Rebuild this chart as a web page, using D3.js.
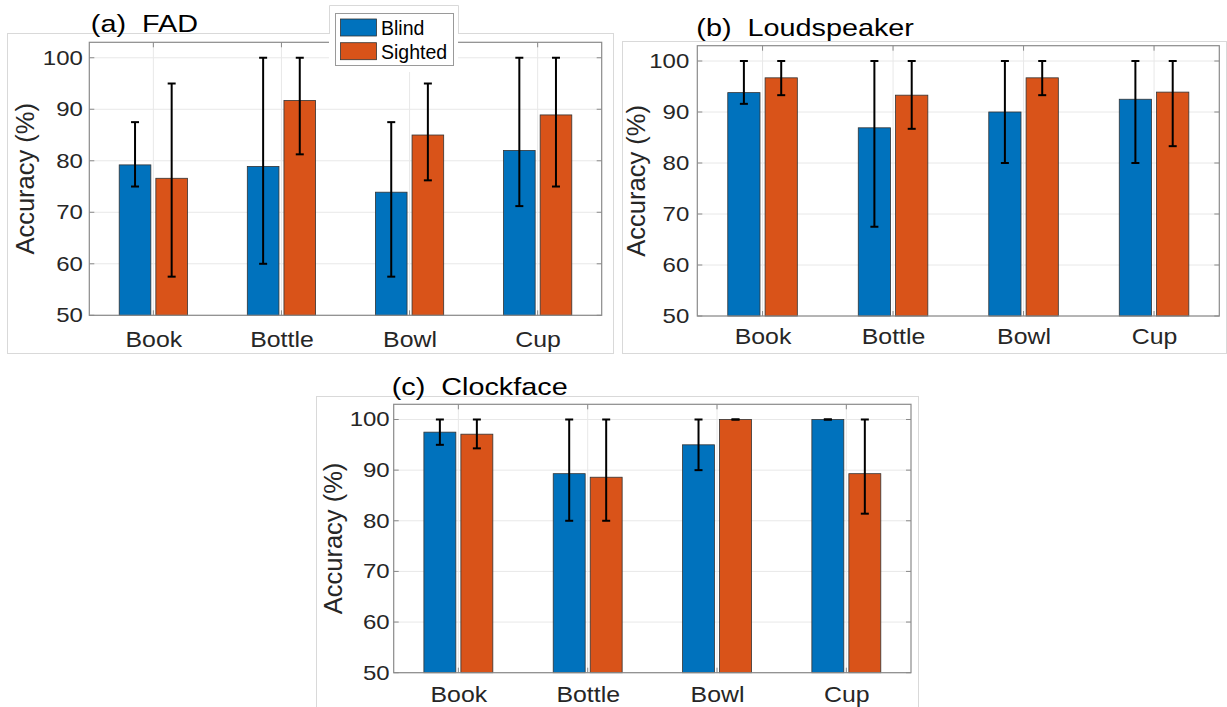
<!DOCTYPE html>
<html>
<head>
<meta charset="utf-8">
<script src="https://cdn.jsdelivr.net/npm/d3@7"></script>
<style>
  html, body { margin: 0; padding: 0; background: #fff; }
  svg { display: block; font-family: "Liberation Sans", Arial, Helvetica, sans-serif; }
</style>
</head>
<body>
<svg id="chart" width="1227" height="707"></svg>
<script>
// ---------------- DATA ----------------
const categories = ["Book", "Bottle", "Bowl", "Cup"];
const seriesNames = ["Blind", "Sighted"];
const yTicks = [50, 60, 70, 80, 90, 100];
const panelTitles = ["(a)  FAD", "(b)  Loudspeaker", "(c)  Clockface"];
const yLabel = "Accuracy (%)";

// (a) FAD
const fadBlind        = [79.2, 78.9, 73.9, 82.0];
const fadBlindLow     = [75.0, 60.0, 57.5, 71.2];
const fadBlindHigh    = [87.5, 100, 87.5, 100];
const fadSighted      = [76.6, 91.7, 85.0, 88.9];
const fadSightedLow   = [57.5, 81.25, 76.2, 75.0];
const fadSightedHigh  = [95.0, 100, 95.0, 100];

// (b) Loudspeaker
const loudBlind       = [93.8, 86.9, 90.0, 92.5];
const loudBlindLow    = [91.6, 67.5, 80.0, 80.0];
const loudBlindHigh   = [100, 100, 100, 100];
const loudSighted     = [96.7, 93.3, 96.7, 93.9];
const loudSightedLow  = [93.3, 86.7, 93.3, 83.3];
const loudSightedHigh = [100, 100, 100, 100];

// (c) Clockface
const clockBlind       = [97.5, 89.3, 95.0, 100];
const clockBlindLow    = [95.0, 80.0, 90.0, 100];
const clockBlindHigh   = [100, 100, 100, 100];
const clockSighted     = [97.1, 88.6, 100, 89.3];
const clockSightedLow  = [94.3, 80.0, 100, 81.4];
const clockSightedHigh = [100, 100, 100, 100];

// ---------------- STYLE / LAYOUT ----------------
const colors = ["#0072BD", "#D95319"];
const groupOffset = 0.143;
const barWidthUnits = 0.247;
const TXT = "#262626";
const AXIS = "#8a8a8a";
const GRID = "#e8e8e8";
const FRAME = "#d9d9d9";
const SX = 1.2; // horizontal stretch of the original figure's lettering

const panels = [
  { title: panelTitles[0], blind: fadBlind, bLo: fadBlindLow, bHi: fadBlindHigh,
    sighted: fadSighted, sLo: fadSightedLow, sHi: fadSightedHigh,
    frame: [7, 33, 613, 353], plot: [89.3, 42.3, 601.7, 315.3],
    yPad: 6.5, xBase: 31.4, ylabX: -64, titleX: 1.5, titleBase: 31.7 },
  { title: panelTitles[1], blind: loudBlind, bLo: loudBlindLow, bHi: loudBlindHigh,
    sighted: loudSighted, sLo: loudSightedLow, sHi: loudSightedHigh,
    frame: [622, 41, 1226, 353], plot: [697.3, 45.7, 1219.3, 316],
    yPad: 8, xBase: 28.5, ylabX: -61, titleX: -1, titleBase: 35.5 },
  { title: panelTitles[2], blind: clockBlind, bLo: clockBlindLow, bHi: clockBlindHigh,
    sighted: clockSighted, sLo: clockSightedLow, sHi: clockSightedHigh,
    frame: [316, 396, 918, 708], plot: [393.7, 404.3, 911, 672.7],
    yPad: 4, xBase: 29, ylabX: -61, titleX: -2, titleBase: 395 }
];

const svg = d3.select("#chart");

panels.forEach(p => {
  const [fx0, fy0, fx1, fy1] = p.frame;
  svg.append("rect")
    .attr("x", fx0 + 0.5).attr("y", fy0 + 0.5)
    .attr("width", fx1 - fx0).attr("height", fy1 - fy0)
    .attr("fill", "#fff").attr("stroke", FRAME).attr("stroke-width", 1);

  const [px0, py0, px1, py1] = p.plot;
  const x = d3.scaleLinear().domain([0.5, categories.length + 0.5]).range([px0, px1]);
  const y = d3.scaleLinear().domain([50, 103]).range([py1, py0]);

  const g = svg.append("g");

  // grid
  g.append("g").selectAll("line").data(yTicks).join("line")
    .attr("x1", px0).attr("x2", px1)
    .attr("y1", d => y(d)).attr("y2", d => y(d))
    .attr("stroke", GRID).attr("stroke-width", 1);
  g.append("g").selectAll("line").data(categories).join("line")
    .attr("x1", (d, i) => x(i + 1)).attr("x2", (d, i) => x(i + 1))
    .attr("y1", py0).attr("y2", py1)
    .attr("stroke", GRID).attr("stroke-width", 1);

  // bars
  const series = [
    { vals: p.blind, lo: p.bLo, hi: p.bHi, off: -groupOffset, color: colors[0] },
    { vals: p.sighted, lo: p.sLo, hi: p.sHi, off: groupOffset, color: colors[1] }
  ];
  const bw = x(1 + barWidthUnits) - x(1);
  series.forEach(s => {
    g.append("g").selectAll("rect").data(s.vals).join("rect")
      .attr("x", (d, i) => x(i + 1 + s.off) - bw / 2)
      .attr("y", d => y(d))
      .attr("width", bw)
      .attr("height", d => y(50) - y(d))
      .attr("fill", s.color)
      .attr("stroke", "#333").attr("stroke-width", 0.8);
  });
  // error bars
  series.forEach(s => {
    const eg = g.append("g").attr("stroke", "#000").attr("stroke-width", 2).attr("fill", "none");
    s.vals.forEach((v, i) => {
      const cx = x(i + 1 + s.off);
      eg.append("line").attr("x1", cx).attr("x2", cx).attr("y1", y(s.lo[i])).attr("y2", y(s.hi[i]));
      eg.append("line").attr("x1", cx - 4).attr("x2", cx + 4).attr("y1", y(s.hi[i])).attr("y2", y(s.hi[i]));
      eg.append("line").attr("x1", cx - 4).attr("x2", cx + 4).attr("y1", y(s.lo[i])).attr("y2", y(s.lo[i]));
    });
  });

  // box
  g.append("rect").attr("x", px0).attr("y", py0)
    .attr("width", px1 - px0).attr("height", py1 - py0)
    .attr("fill", "none").attr("stroke", AXIS).attr("stroke-width", 1.2);

  // inward ticks
  const tk = g.append("g").attr("stroke", AXIS).attr("stroke-width", 1);
  yTicks.forEach(t => {
    tk.append("line").attr("x1", px0).attr("x2", px0 + 5).attr("y1", y(t)).attr("y2", y(t));
    tk.append("line").attr("x1", px1 - 5).attr("x2", px1).attr("y1", y(t)).attr("y2", y(t));
  });
  categories.forEach((c, i) => {
    tk.append("line").attr("x1", x(i + 1)).attr("x2", x(i + 1)).attr("y1", py1).attr("y2", py1 - 5);
    tk.append("line").attr("x1", x(i + 1)).attr("x2", x(i + 1)).attr("y1", py0).attr("y2", py0 + 5);
  });

  // y axis labels via d3 axis
  const ya = g.append("g").attr("transform", `translate(${px0},0)`)
    .call(d3.axisLeft(y).tickValues(yTicks).tickSize(0).tickPadding(0));
  ya.select(".domain").remove();
  ya.selectAll("text")
    .attr("x", -p.yPad / SX)
    .attr("fill", TXT)
    .attr("font-size", 20)
    .attr("font-family", "'Liberation Sans', Arial, sans-serif")
    .attr("transform", `scale(${SX},1)`);

  // x axis labels via d3 axis
  const xa = g.append("g").attr("transform", `translate(0,${py1})`)
    .call(d3.axisBottom(x).tickValues(categories.map((c, i) => i + 1))
      .tickFormat((d) => categories[d - 1]).tickSize(0).tickPadding(0));
  xa.select(".domain").remove();
  xa.selectAll("text")
    .attr("dy", null)
    .attr("y", p.xBase)
    .attr("x", 0)
    .attr("fill", TXT)
    .attr("font-size", 22)
    .attr("font-family", "'Liberation Sans', Arial, sans-serif")
    .attr("transform", `scale(1.13,1)`);

  // y label
  g.append("text")
    .attr("transform", `translate(${px0 + p.ylabX},${(py0 + py1) / 2}) rotate(-90)`)
    .attr("text-anchor", "middle")
    .attr("dominant-baseline", "central")
    .attr("fill", TXT)
    .attr("font-size", 25.5)
    .text(yLabel);

  // title
  g.append("text")
    .attr("transform", `translate(${px0 + p.titleX},${p.titleBase}) scale(${SX},1)`)
    .attr("fill", "#000")
    .attr("font-size", 24)
    .style("white-space", "pre")
    .attr("xml:space", "preserve")
    .text(p.title);
});

// ---------------- LEGEND (panel a) ----------------
const lg = svg.append("g");
lg.append("rect").attr("x", 329).attr("y", 5).attr("width", 129).attr("height", 67)
  .attr("fill", "#fff");
lg.append("path").attr("d", "M329.5,34 V5.5 H458.5 V34")
  .attr("fill", "none").attr("stroke", FRAME).attr("stroke-width", 1);
lg.append("rect").attr("x", 335.5).attr("y", 13.5).attr("width", 118).attr("height", 52)
  .attr("fill", "#fff").attr("stroke", "#9a9a9a").attr("stroke-width", 1);
const legY = d3.scalePoint().domain(seriesNames).range([19, 42.7]);
lg.selectAll("rect.sw").data(seriesNames).join("rect").attr("class", "sw")
  .attr("x", 340.5).attr("y", d => legY(d))
  .attr("width", 36).attr("height", 17)
  .attr("fill", (d, i) => colors[i]).attr("stroke", "#333").attr("stroke-width", 0.8);
lg.selectAll("text").data(seriesNames).join("text")
  .attr("x", 381).attr("y", d => legY(d) + 16)
  .attr("fill", "#000").attr("font-size", 19.5)
  .text(d => d);
</script>
</body>
</html>
